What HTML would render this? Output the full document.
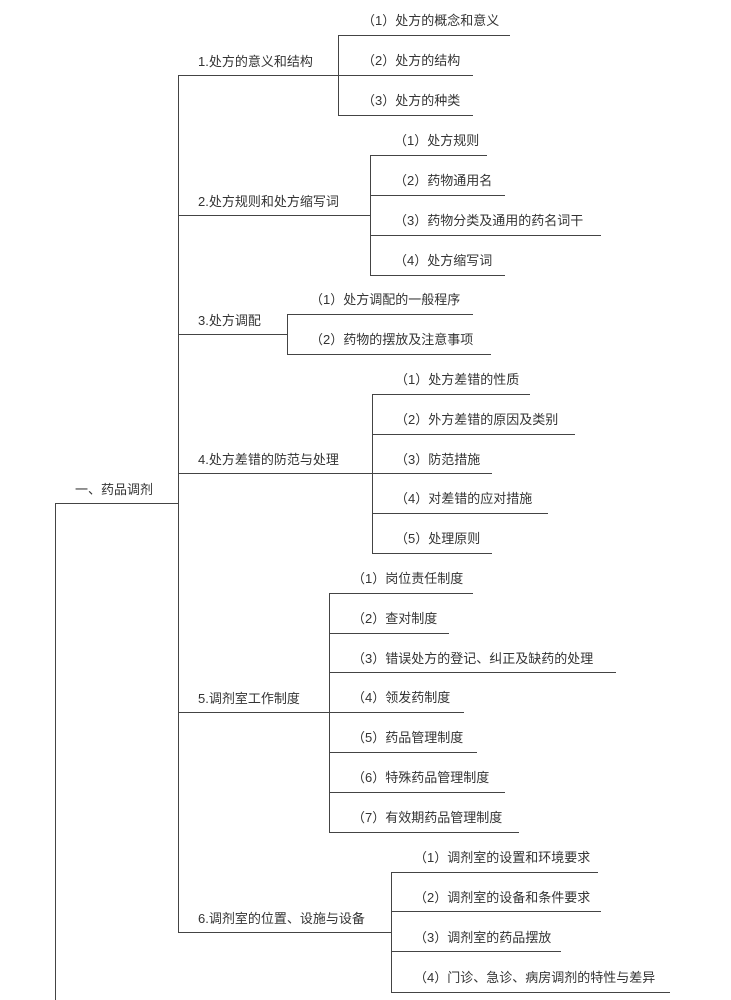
<!DOCTYPE html>
<html><head><meta charset="utf-8"><style>
html,body{margin:0;padding:0;background:#fff;}
svg{display:block;}
text{font-family:"Liberation Sans","Noto Sans CJK SC",sans-serif;font-size:13px;fill:#333;}
line{stroke:#444;stroke-width:1;}
</style></head><body>
<svg width="731" height="1000" viewBox="0 0 731 1000">
<!-- root -->
<line x1="55" y1="503.5" x2="178" y2="503.5"/>
<line x1="55.5" y1="503" x2="55.5" y2="1000"/>
<text x="75" y="494">一、药品调剂</text>
<line x1="178.5" y1="75" x2="178.5" y2="932"/>

<!-- node 1 -->
<line x1="178" y1="75.5" x2="338" y2="75.5"/>
<text x="198" y="66">1.处方的意义和结构</text>
<line x1="338.5" y1="35" x2="338.5" y2="115"/>
<line x1="338" y1="35.5" x2="510" y2="35.5"/><text x="362" y="25">（1）处方的概念和意义</text>
<line x1="338" y1="75.5" x2="473" y2="75.5"/><text x="362" y="65">（2）处方的结构</text>
<line x1="338" y1="115.5" x2="473" y2="115.5"/><text x="362" y="105">（3）处方的种类</text>

<!-- node 2 -->
<line x1="178" y1="215.5" x2="370" y2="215.5"/>
<text x="198" y="206">2.处方规则和处方缩写词</text>
<line x1="370.5" y1="155" x2="370.5" y2="275"/>
<line x1="370" y1="155.5" x2="487" y2="155.5"/><text x="394" y="145">（1）处方规则</text>
<line x1="370" y1="195.5" x2="505" y2="195.5"/><text x="394" y="185">（2）药物通用名</text>
<line x1="370" y1="235.5" x2="601" y2="235.5"/><text x="394" y="225">（3）药物分类及通用的药名词干</text>
<line x1="370" y1="275.5" x2="505" y2="275.5"/><text x="394" y="265">（4）处方缩写词</text>

<!-- node 3 -->
<line x1="178" y1="334.5" x2="287" y2="334.5"/>
<text x="198" y="325">3.处方调配</text>
<line x1="287.5" y1="314" x2="287.5" y2="354"/>
<line x1="287" y1="314.5" x2="473" y2="314.5"/><text x="310" y="304">（1）处方调配的一般程序</text>
<line x1="287" y1="354.5" x2="491" y2="354.5"/><text x="310" y="344">（2）药物的摆放及注意事项</text>

<!-- node 4 -->
<line x1="178" y1="473.5" x2="372" y2="473.5"/>
<text x="198" y="464">4.处方差错的防范与处理</text>
<line x1="372.5" y1="394" x2="372.5" y2="553"/>
<line x1="372" y1="394.5" x2="530" y2="394.5"/><text x="395" y="384">（1）处方差错的性质</text>
<line x1="372" y1="434.5" x2="575" y2="434.5"/><text x="395" y="424">（2）外方差错的原因及类别</text>
<line x1="372" y1="473.5" x2="492" y2="473.5"/><text x="395" y="464">（3）防范措施</text>
<line x1="372" y1="513.5" x2="548" y2="513.5"/><text x="395" y="503">（4）对差错的应对措施</text>
<line x1="372" y1="553.5" x2="492" y2="553.5"/><text x="395" y="543">（5）处理原则</text>

<!-- node 5 -->
<line x1="178" y1="712.5" x2="329" y2="712.5"/>
<text x="198" y="703">5.调剂室工作制度</text>
<line x1="329.5" y1="593" x2="329.5" y2="832"/>
<line x1="329" y1="593.5" x2="473" y2="593.5"/><text x="352" y="583">（1）岗位责任制度</text>
<line x1="329" y1="633.5" x2="449" y2="633.5"/><text x="352" y="623">（2）查对制度</text>
<line x1="329" y1="672.5" x2="616" y2="672.5"/><text x="352" y="663">（3）错误处方的登记、纠正及缺药的处理</text>
<line x1="329" y1="712.5" x2="464" y2="712.5"/><text x="352" y="702">（4）领发药制度</text>
<line x1="329" y1="752.5" x2="477" y2="752.5"/><text x="352" y="742">（5）药品管理制度</text>
<line x1="329" y1="792.5" x2="505" y2="792.5"/><text x="352" y="782">（6）特殊药品管理制度</text>
<line x1="329" y1="832.5" x2="519" y2="832.5"/><text x="352" y="822">（7）有效期药品管理制度</text>

<!-- node 6 -->
<line x1="178" y1="932.5" x2="391" y2="932.5"/>
<text x="198" y="923">6.调剂室的位置、设施与设备</text>
<line x1="391.5" y1="872" x2="391.5" y2="992"/>
<line x1="391" y1="872.5" x2="598" y2="872.5"/><text x="414" y="862">（1）调剂室的设置和环境要求</text>
<line x1="391" y1="911.5" x2="601" y2="911.5"/><text x="414" y="902">（2）调剂室的设备和条件要求</text>
<line x1="391" y1="951.5" x2="561" y2="951.5"/><text x="414" y="942">（3）调剂室的药品摆放</text>
<line x1="391" y1="992.5" x2="670" y2="992.5"/><text x="414" y="982">（4）门诊、急诊、病房调剂的特性与差异</text>
</svg>
</body></html>
